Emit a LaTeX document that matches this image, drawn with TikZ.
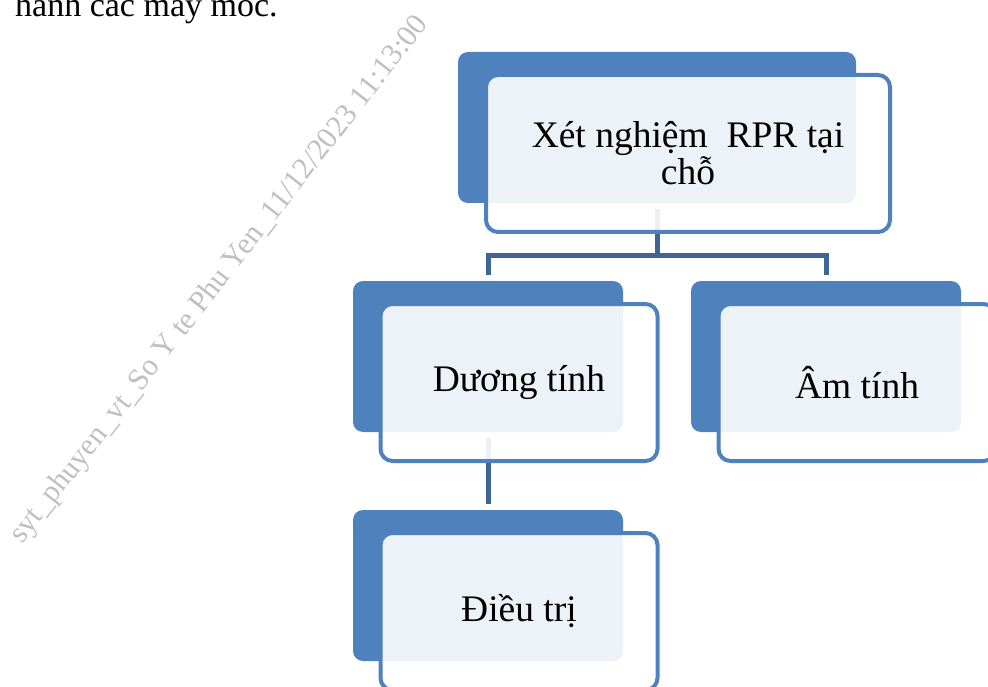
\documentclass[tikz,border=0pt]{standalone}
\usepackage{fontspec}
\setmainfont{Liberation Serif}
\usepackage{tikz}
\usetikzlibrary{positioning, calc}
\definecolor{SmartBlue}{RGB}{79, 129, 189}
\definecolor{LinkBlue}{RGB}{62, 101, 150}
\definecolor{MarkGray}{RGB}{192, 192, 192}

\begin{document}
\begin{tikzpicture}[x=1pt, y=-1pt,
    backbox/.style={fill=SmartBlue, rounded corners=10pt, minimum height=151pt, inner sep=0pt},
    frontbox/.style={draw=SmartBlue, line width=4pt, fill=white, fill opacity=0.9, text opacity=1,
        rounded corners=12pt, minimum height=157pt, inner sep=0pt, align=center,
        font=\fontsize{37.5}{37}\selectfont},
    connector/.style={draw=LinkBlue, line width=5pt, shorten <=6pt, shorten >=6pt}]

    \useasboundingbox (0,0) rectangle (988,687);
    \clip (0,0) rectangle (988,687);

    % dòng chữ phía trên
    \node[anchor=base west, inner sep=0pt, font=\fontsize{34}{40}\selectfont] (intro) at (15,17) {hành các máy móc.};

    % dấu chìm
    \node[rotate=52, text=MarkGray, inner sep=0pt, font=\fontsize{30.3}{36}\selectfont] (mark) at (220,280)
        {syt\_phuyen\_vt\_So Y te Phu Yen\_11/12/2023 11:13:00};

    % khối nền
    \node[backbox, minimum width=398pt] (rpr-bg) at (657,127.5) {};
    \node[backbox, minimum width=270pt] (duong-bg) at (488,356.5) {};
    \node[backbox, minimum width=270pt] (am-bg) at (826,356.5) {};
    \node[backbox, minimum width=270pt] (dieutri-bg) at (488,585.5) {};

    % đường nối
    \draw[connector] (rpr-bg.south) -- ++(0,52) -| (duong-bg.north);
    \draw[connector] (rpr-bg.south) -- ++(0,52) -| (am-bg.north);
    \draw[connector] (duong-bg.south) -- (dieutri-bg.north);

    % khối chữ
    \node[frontbox, minimum width=404pt] (rpr) at ([shift={(31,26)}]rpr-bg.center) {Xét nghiệm~ RPR tại\\chỗ};
    \node[frontbox, minimum width=277pt] (duong) at ([shift={(31,26)}]duong-bg.center) {Dương tính};
    \node[frontbox, minimum width=277pt] (am) at ([shift={(31,26)}]am-bg.center) {Âm tính};
    \node[frontbox, minimum width=277pt] (dieutri) at ([shift={(31,26)}]dieutri-bg.center) {Điều trị};
\end{tikzpicture}
\end{document}
